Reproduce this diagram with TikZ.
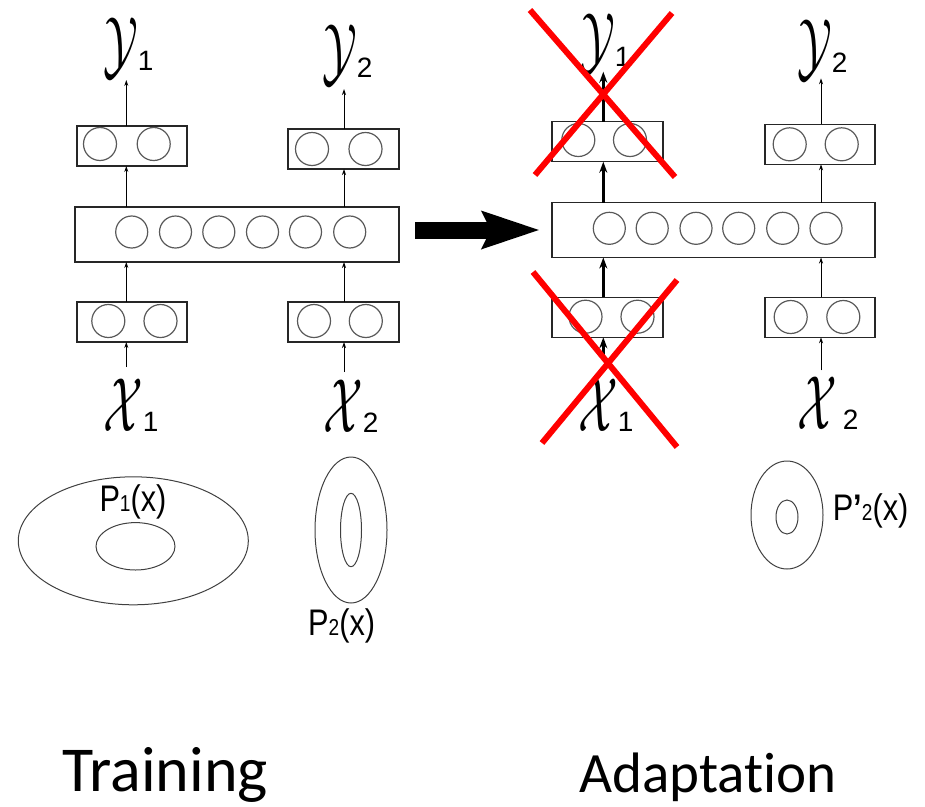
\RequirePackage{fix-cm}
\documentclass[tikz,border=0pt]{standalone}
\usepackage{fontspec}
\setmainfont{Liberation Sans}
\newfontfamily\calibri[Ligatures=NoCommon]{Carlito}
\usetikzlibrary{arrows.meta,calc}
\newcommand{\dg}[1]{{\fontsize{28}{28}\selectfont #1}}
\newcommand{\calv}[1]{\scalebox{0.72}[1.2]{$\mathcal{#1}$}}
\newcommand{\pl}[1]{\scalebox{0.83}[1]{\fontsize{37}{37}\selectfont #1}}
\newcommand{\ps}[1]{{\fontsize{23}{23}\selectfont #1}}
\begin{document}
\begin{tikzpicture}[x=1pt,y=-1pt]
\tikzset{
  layer/.style={draw=black!85, line width=1.3pt, minimum width=110pt, minimum height=40pt, inner sep=0pt, outer sep=0pt},
  biglayer/.style={layer, minimum width=324pt, minimum height=55pt},
  unit/.style={draw=black!65, line width=1.2pt},
  dens/.style={draw=black!75, line width=1pt},
  thinarrow/.style={-{Stealth[length=6pt,width=4pt]}, line width=0.9pt},
  thickarrow/.style={-{Stealth[length=11pt,width=8pt]}, line width=2.4pt},
  cross/.style={red, line width=6pt},
  var/.style={inner sep=0pt, anchor=base west, font=\fontsize{64}{64}\selectfont},
  plabel/.style={inner sep=0pt, anchor=base west},
  title/.style={inner sep=0pt, anchor=base west},
}
\useasboundingbox (0,0) rectangle (925,806);

% column coordinates
\coordinate (col1) at (126.3,0);
\coordinate (col2) at (344,0);
\coordinate (col3) at (603.3,0);
\coordinate (col4) at (821,0);

% ---------- Training ----------
\node[layer] (ty1) at (132,146) {};
\node[layer, minimum width=111pt] (ty2) at (343.5,149) {};
\node[biglayer] (tbig) at (237,234.5) {};
\node[layer] (tx1) at (132,322) {};
\node[layer, minimum width=111pt] (tx2) at (343.5,322) {};

\draw[unit] (100,144) circle[radius=16.5] (153.7,144) circle[radius=16.5];
\draw[unit] (312,149) circle[radius=16.5] (365.5,149) circle[radius=16.5];
\foreach \x in {131.7,175.5,218.8,262.5,305.5,349.7}
  \draw[unit] (\x,232) circle[radius=16];
\draw[unit] (108.3,321) circle[radius=16.5] (160.5,321) circle[radius=16.5];
\draw[unit] (314,321) circle[radius=16.5] (365.8,321) circle[radius=16.5];

\node[var] (ty1l) at (103,70) {\calv{Y}\dg{1}};
\node[var] (ty2l) at (322,77) {\calv{Y}\dg{2}};
\node[var] (tx1l) at (103,431) {\calv{X}\dg{1}};
\node[var] (tx2l) at (323,432) {\calv{X}\dg{2}};

\draw[thinarrow] ($(tx1.south -| col1)+(0,25)$) -- (tx1.south -| col1);
\draw[thinarrow] (tx1.north -| col1) -- (tbig.south -| col1);
\draw[thinarrow] (tbig.north -| col1) -- (ty1.south -| col1);
\draw[thinarrow] (ty1.north -| col1) -- ($(ty1.north -| col1)+(0,-46)$);

\draw[thinarrow] ($(tx2.south -| col2)+(0,30)$) -- (tx2.south -| col2);
\draw[thinarrow] (tx2.north -| col2) -- (tbig.south -| col2);
\draw[thinarrow] (tbig.north -| col2) -- (ty2.south -| col2);
\draw[thinarrow] (ty2.north -| col2) -- ($(ty2.north -| col2)+(0,-40)$);

% densities
\draw[dens] (133.3,540.8) ellipse[x radius=115, y radius=64];
\draw[dens] (135.5,546.3) ellipse[x radius=39.5, y radius=23.7];
\node[plabel] (p1) at (99.3,511.7) {\pl{P\ps{1}(x)}};
\draw[dens] (351,530) ellipse[x radius=36, y radius=73];
\draw[dens] (351,530) ellipse[x radius=10.5, y radius=36.7];
\node[plabel] (p2) at (308,635) {\pl{P\ps{2}(x)}};

% ---------- Adaptation ----------
\node[layer, minimum width=111pt] (ay1) at (607.5,141.7) {};
\node[layer] (ay2) at (820,144.3) {};
\node[biglayer, minimum width=323pt] (abig) at (713.5,230) {};
\node[layer, minimum width=111pt] (ax1) at (607.5,317.3) {};
\node[layer] (ax2) at (820,317.3) {};

\draw[unit] (578.3,140) circle[radius=16.5] (630,140) circle[radius=16.5];
\draw[unit] (789.7,144.3) circle[radius=16.5] (841.7,144.3) circle[radius=16.5];
\foreach \x in {609.3,652.2,696,738.7,782.7,826}
  \draw[unit] (\x,228.3) circle[radius=16];
\draw[unit] (585.5,316.7) circle[radius=16.5] (637.5,316.7) circle[radius=16.5];
\draw[unit] (790.7,317) circle[radius=16.5] (843.3,317) circle[radius=16.5];

\node[var] (ay1l) at (580,66) {\calv{Y}\dg{1}};
\node[var] (ay2l) at (797,72) {\calv{Y}\dg{2}};
\node[var] (ax1l) at (578,431) {\calv{X}\dg{1}};
\node[var] (ax2l) at (797,429) {\calv{X}\hspace{6pt}\dg{2}};

\draw[thickarrow] ($(ax1.south -| col3)+(0,22)$) -- (ax1.south -| col3);
\draw[thickarrow] (ax1.north -| col3) -- (abig.south -| col3);
\draw[thickarrow] (abig.north -| col3) -- (ay1.south -| col3);
\draw[thickarrow] (ay1.north -| col3) -- ($(ay1.north -| col3)+(0,-50)$);

\draw[thinarrow] ($(ax2.south -| col4)+(0,33)$) -- (ax2.south -| col4);
\draw[thinarrow] (ax2.north -| col4) -- (abig.south -| col4);
\draw[thinarrow] (abig.north -| col4) -- (ay2.south -| col4);
\draw[thinarrow] (ay2.north -| col4) -- ($(ay2.north -| col4)+(0,-46)$);

\draw[dens] (787,515) ellipse[x radius=36, y radius=54];
\draw[dens] (787,517) ellipse[x radius=11, y radius=17];
\node[plabel] (p3) at (832.7,520) {\pl{P\textbf{'}\ps{2}(x)}};

% big arrow training -> adaptation
\draw[line width=17pt, -{Stealth[length=57pt,width=36pt,inset=8pt]}, shorten <=16pt, shorten >=12pt]
  (abig.west -| tbig.east) -- (abig.west);

% red crosses
\draw[cross] (530,10) -- (675,177);
\draw[cross] (672,13) -- (535,175);
\draw[cross] (533,272) -- (677,447);
\draw[cross] (677,280) -- (542,443);

% titles
\node[title, font=\calibri\fontsize{64}{64}\selectfont] (train) at (62,791) {Training};
\node[title, font=\calibri\fontsize{57}{57}\selectfont] (adapt) at (579,792) {Adaptation};
\end{tikzpicture}
\end{document}
